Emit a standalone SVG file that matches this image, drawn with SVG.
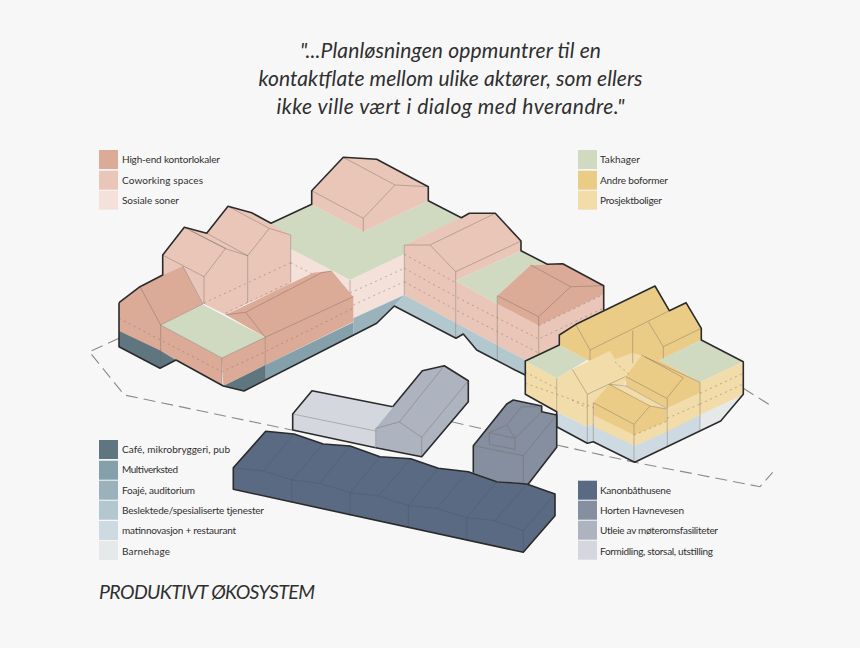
<svg xmlns="http://www.w3.org/2000/svg" width="860" height="648" viewBox="0 0 860 648">
<style>
text{font-family:"Lato","Liberation Sans",sans-serif;fill:#2f2f2f}
.l{font-size:10px}
.q{font-size:21px;font-style:italic;font-weight:400}
.t{font-size:19.5px;font-style:italic;font-weight:400}
.i{fill:none;stroke:#6f625c;stroke-width:.6;stroke-opacity:.65}
.d{fill:none;stroke:#75675f;stroke-width:.7;stroke-dasharray:2 3.5;stroke-opacity:.65}
.o{fill:none;stroke:#2b2b2b;stroke-width:1.6;stroke-linejoin:round}
.h{fill:#dcab97}.c{fill:#e9c6b8}.s{fill:#f3e1da}.g{fill:#d0dac0}.a{fill:#ebcc86}.p{fill:#f1dcaa}
.b1{fill:#5f7680}.b2{fill:#84a0ab}.b3{fill:#9ab2bb}.b4{fill:#b3c7cf}.b5{fill:#cedae1}.b6{fill:#e5e9ea}
.n1{fill:#5a6a82}.n2{fill:#858f9f}.n3{fill:#adb4c0}.n4{fill:#d4d8de}
.n{fill:none;stroke:#47546a;stroke-width:.5;stroke-opacity:.75}
</style>
<rect width="860" height="648" fill="#f7f7f7"/>
<g id="quote">
<text class="q" x="300" y="58" textLength="301">"...Planløsningen oppmuntrer til en</text>
<text class="q" x="258.500" y="86" textLength="384">kontaktflate mellom ulike aktører, som ellers</text>
<text class="q" x="276.500" y="113.500" textLength="348">ikke ville vært i dialog med hverandre."</text>
</g>
<g id="connectors" fill="none" stroke="#8a8a8a" stroke-width="1.1" stroke-dasharray="12 6">
<path d="M119 338.3L89.3 351.7L124.3 395L292 430"/>
<path d="M451.7 421.7L483 429"/>
<path d="M556.7 445L634.7 462.3L760 486.7L772.7 472.3"/>
<path d="M743.3 388.3L770 405"/>
</g>
<g id="block-main">
<polygon class="g" points="270,224 311.7,204.3 363.3,231.7 428.3,200.7 461.3,217.7 404.3,245 404.3,254.3 350,280 290.7,249 290.7,235"/>
<polygon class="s" points="290.7,249 350,280 353.3,297 313,273 290.7,285"/>
<polygon class="s" points="350,280 404.3,254.3 404.3,295 353.3,318.3 350,300"/>
<polygon class="b3" points="353.3,318.3 404.3,295 394.3,306 376.7,323.3 353.3,335.5"/>
<path class="i" d="M350 280V298"/>
<path class="d" d="M290.7 262.7L316 276M353.3 305L404.3 281.7M350 293L404.3 268.3"/>
</g>
<g id="block-top">
<polygon class="c" points="311.7,190.7 343.3,157.3 376.7,159.3 428.3,186.7 428.3,200.7 363.3,231.7 311.7,204.3"/>
<path class="i" d="M343.3 157.3L395 185L428.3 186.7M395 185L363.3 218.3L311.7 190.7M363.3 218.3V231.7"/>
</g>
<g id="block-gables">
<polygon class="c" points="162.7,255 184.3,227.3 206.7,233.3 228,206.3 251.7,212.7 271,223.3 290.7,235 290.7,285 247.7,303.3 225.7,314.7 204,304 182.7,266 162.7,275"/>
<path class="i" d="M184.3 227.3L225.7 248.3L204 276.7L162.7 255M191 231L225 248.5L247.7 255.7M228 206.3L269.3 228.3L247.7 255.7L206.7 233.3M269.3 228.3L290.7 235V282M247.7 255.7V303M204 276.7V304"/>
<path class="d" d="M204 303L290.7 262.700M225.7 313L290.7 282"/>
</g>
<g id="block-south">
<polygon class="h" points="119,302.7 140,286.7 162.7,275 182.7,266 203.3,304 160.7,325 222,358 222,386 176,360 160.7,350.7 160,368.3 119,346.7"/>
<polygon class="b1" points="119,331 160.7,350.7 176,360 160,368.3 119,346.7"/>
<polygon class="g" points="160.7,325 203.3,304.7 265.3,337.3 222,358"/>
<polygon class="h" points="222,358 265.3,337.3 265.3,365 223.3,386"/>
<polygon class="b1" points="223.3,386 265.3,365 265.3,379.3 244,391"/>
<polygon class="h" points="225.7,314.7 313.3,272.7 331.7,271 353.3,296.7 353.3,321.7 265.3,365 265.3,337.3"/>
<polygon class="b2" points="265.3,365 353.3,322.3 353.3,335.5 244,391 265.3,379.3"/>
<path class="i" d="M140 286.7L160.7 325V368M182.7 266L203.3 304L160.7 325L222 358V386M222 358L265.3 337.3V379M225.7 314.7L245.7 312.3L265.3 337.3L353.3 296.7M245.7 312.3L321.7 272.7L331.7 271"/>
<path class="d" d="M119 318.3L160.7 340L222 371.7L265.3 351.7L353.3 308.3"/>
</g>
<g id="block-east">
<polygon class="c" points="404.3,245 469.3,213.3 495.3,213.3 521,241 521,250.7 455.7,280.7 455.7,322.7 404.3,295"/>
<polygon class="g" points="455.7,280.7 521,250.7 547.3,264.3 530.7,265 497.3,295.7 497.3,304"/>
<polygon class="c" points="455.7,280.7 497.3,304 538.7,325.7 603.7,294.3 603.7,310 558.7,335 558.7,346.7 538.7,356.7 525,360 455.7,322.7"/>
<polygon class="h" points="497.3,295.7 530.7,265 562.7,263.7 603.7,285.7 603.7,294.3 538.7,325.7 497.3,304"/>
<polygon class="b4" points="404.3,295 455.7,322.7 525,360 525,375 515,370 476.7,350 463.3,334 456,338.3 394.3,306"/>
<path class="i" d="M404.3 245H430L495.3 213.3M430 245L455.7 271.7L521 241M455.7 271.7V338M404.3 245V295M530.7 265L570.7 286.7L603.7 285.7M570.7 286.7L538.7 316.7L497.3 295.7M538.7 316.7V356M497.3 295.7V360"/>
<path class="d" d="M404.3 254.3L455.7 282.7M404.3 268.3L455.7 296.7L538.7 339L603.7 308M404.3 281.7L455.7 310L538.7 353M538.7 325.7L603.7 294.3"/>
</g>
<g id="outline-main">
<path class="o" d="M119 302.7L140 286.7L162.7 275V255L184.3 227.3L206.7 233.3L228 206.3L251.7 212.7L271 223.3L311.7 204.3V190.7L343.3 157.3L376.7 159.3L428.3 186.7V200.7L461.3 217.7L469.3 213.3H495.3L521 241V250.7L547.3 264.3L562.7 263.7L603.7 285.7V310"/>
<path class="o" d="M119 302.7V346.7L160 368.3L176 360L223.3 386L244 391L376.7 323.3L394.3 306L456 338.3L463.3 334L476.7 350L515 370L525.3 375"/>
</g>
<g id="block-yellow">
<polygon class="p" points="525.3,361 556.7,378.3 556.7,411.7 525.3,394.3"/>
<polygon class="g" points="525.3,361 559.3,345 587.3,360 556.7,378.3"/>
<polygon class="a" points="559.3,345 559.3,335 576,324.3 655,286 669.3,310.7 686,302.7 701.3,328.3 701.3,340 660,360 633,385 587.3,360"/>
<polygon class="p" points="615,359.3 632.7,352.7 643.3,356 625.3,376.7"/>
<polygon class="g" points="659.3,360 701.3,340 743.3,361.7 700,382.3"/>
<polygon class="p" points="700,382.3 743.3,361.7 743.3,395 700,415"/>
<polygon class="b6" points="700,415 743.3,395 720.7,421 700,430"/>
<polygon class="b5" points="556.7,411.7 587.3,426.7 593.3,423.3 634.7,445.7 700,415 700,430 634.7,462.3 593.3,441.7 587.3,443.3 556.7,426.7"/>
<polygon class="p" points="556.7,378.3 572.3,369.3 610,350.7 625.3,376.7 625.3,385 610,385 593.3,402.7 593.3,423.3 587.3,426.7 556.7,411.7"/>
<polygon class="a" points="626,376.7 641.7,355 659.3,360 700,382.3 700,393.3 667.3,408.3 626,386"/>
<polygon class="p" points="667.3,408.3 700,393.3 700,415 667.3,431.7"/>
<polygon class="p" points="609.3,384.3 626,386 666.7,408.3 667.3,431.7 634.7,445.7 593.3,426.7 593.3,402.7"/>
<polygon class="a" points="593.3,402.7 609.3,384.3 650,406 666.7,409 667,421 634,435 593.3,415"/>
<path class="i" d="M576 325L590 350L669.3 310.7M590 350V360M632.7 330.7V363.3M648.3 321.7L663.3 346.7L701.3 328.3M663.3 346.7V358.3M572.3 369.3L587.3 394.3L625.3 376.7M556.7 378.3V426M587.3 394.3V443M626 376.7L666.7 398.3L683.3 377.7M641.7 355L683.3 377.7M645 357L700 382.3M626 386L666.7 408.3M667.3 398.3V446M609.3 384.3L650 406L634 424.3L593.3 402.7M650 406L666.7 409M593.3 402.7V441M634 424.3V462M700 382.3V430M609.3 384.3L626 386"/>
<path class="d" d="M525.3 372L556.7 388.5M525.3 383.3L587.3 405M587.3 405L593.3 408M700 393.3L743.3 373.3M700 404L743.3 384M667.3 418.3L700 404M634 435L667.3 421M615 362L630 375M572 400L587.3 408"/>
<path class="o" d="M525.3 361L559.3 345V335L576 324.3L655 286L669.3 310.7L686 302.7L701.3 328.3V340L743.3 361.7V394.3L720.7 421L634.7 462.3L593.3 441.7L587.3 443.3L556.7 426.7V411.7L525.3 394.3Z"/>
</g>
<g id="bldg-light">
<polygon class="n4" points="292.7,414 312,390.7 392.7,406.7 375.7,428.3 375.7,447.7 292.7,430"/>
<path class="i" d="M292.7 414L375.7 431"/>
<path class="o" d="M375.7 447.7L292.7 430V414L312 390.7L392.7 406.7"/>
</g>
<g id="bldg-mid">
<polygon class="n3" points="375.7,428.3 422.3,370.7 444.3,365.7 468.3,380.7 468.3,401.7 421.7,456.7 375.7,447.7"/>
<path class="i" d="M375.7 428.3L399.3 422L421.7 437.3V456.7M421.7 437.3L468.3 380.7M399.3 422L444.3 365.700M375.7 428.3V447.7"/>
<path class="o" d="M392.7 406.7L422.3 370.7L444.3 365.7L468.3 380.7V401.7L421.7 456.7L375.7 447.7"/>
</g>
<g id="bldg-dark">
<polygon class="n2" points="473.3,445.7 506.7,404 513.3,400 541.7,406 541.7,411.7 556.7,415 556.7,447.3 528.3,484 496,481 473.3,472.7"/>
<path class="i" d="M473.3 445.7L523.3 455.7L556.7 415M523.3 455.7V482.7M489.3 432.7L506.7 425L515 438.3V449.3L489.3 444.3ZM489.3 432.7L515 438.3M506.7 425L521.7 406.7H536.7L541.7 411.7L515 438.3"/>
<path class="o" d="M473.3 472.7V445.7L506.7 404L513.3 400L541.7 406V411.7L556.7 415V447.3L528.3 484"/>
</g>
<g id="bldg-navy">
<polygon class="n1" points="233.3,467.7 265.7,431.3 294,434 323.3,444 350,446 380,456.7 410.7,458.7 438.3,468.3 468.3,471.7 496.7,481.7 526.7,484 555,494 555,515.7 523.3,552.3 233.3,489.3"/>
<path class="n" d="M233.3 467.7L263.3 471L291.7 480L320 483.3L350 492.7L378.3 496L408.3 505.7L436.7 508.3L466.7 517.7L495 520.7L523.3 530.7L555 494M523.3 530.7V552.3M291.7 480V503M350 492.7V516M408.3 505.7V528M466.7 517.7V541M263.3 471L294 434M291.7 480L323.3 444M320 483.3L350 446M350 492.7L380 456.7M378.3 496L410.7 458.7M408.3 505.7L438.3 468.3M436.7 508.3L468.3 471.7M466.7 517.7L496.7 481.7M495 520.7L526.7 484"/>
<path class="o" d="M233.3 467.7L265.7 431.3L294 434L323.3 444L350 446L380 456.7L410.7 458.7L438.3 468.3L468.3 471.7L496.7 481.7L526.7 484L555 494V515.7L523.3 552.3L233.3 489.3Z"/>
</g>
<g id="legend-office">
<rect class="h" x="99" y="150" width="19" height="19"/><text class="l" x="122" y="163" textLength="98">High-end kontorlokaler</text>
<rect class="c" x="99" y="170.7" width="19" height="19"/><text class="l" x="122" y="184" textLength="81">Coworking spaces</text>
<rect class="s" x="99" y="190.7" width="19" height="19"/><text class="l" x="122" y="204" textLength="57">Sosiale soner</text>
</g>
<g id="legend-housing">
<rect class="g" x="578" y="150" width="19" height="19"/><text class="l" x="600" y="163" textLength="40">Takhager</text>
<rect class="a" x="578" y="170.7" width="19" height="19"/><text class="l" x="600" y="184" textLength="68">Andre boformer</text>
<rect class="p" x="578" y="190.7" width="19" height="19"/><text class="l" x="600" y="204" textLength="62">Prosjektboliger</text>
</g>
<g id="legend-public">
<rect class="b1" x="99" y="440" width="19" height="19"/><text class="l" x="122" y="453" textLength="108">Café, mikrobryggeri, pub</text>
<rect class="b2" x="99" y="460.7" width="19" height="19"/><text class="l" x="122" y="473" textLength="56">Multiverksted</text>
<rect class="b3" x="99" y="480.7" width="19" height="19"/><text class="l" x="122" y="494" textLength="73">Foajé, auditorium</text>
<rect class="b4" x="99" y="500.7" width="19" height="19"/><text class="l" x="122" y="514" textLength="142">Beslektede/spesialiserte tjenester</text>
<rect class="b5" x="99" y="521" width="19" height="19"/><text class="l" x="122" y="534" textLength="114">matinnovasjon + restaurant</text>
<rect class="b6" x="99" y="541" width="19" height="19"/><text class="l" x="122" y="555" textLength="48">Barnehage</text>
</g>
<g id="legend-harbour">
<rect class="n1" x="578" y="480.7" width="19" height="19"/><text class="l" x="600" y="494" textLength="71">Kanonbåthusene</text>
<rect class="n2" x="578" y="500.7" width="19" height="19"/><text class="l" x="600" y="514" textLength="84">Horten Havnevesen</text>
<rect class="n3" x="578" y="520.7" width="19" height="19"/><text class="l" x="600" y="534" textLength="118">Utleie av møteromsfasiliteter</text>
<rect class="n4" x="578" y="540.7" width="19" height="19"/><text class="l" x="600" y="555" textLength="113">Formidling, storsal, utstilling</text>
</g>
<text class="t" x="99" y="598.500" textLength="216">PRODUKTIVT ØKOSYSTEM</text>
</svg>
